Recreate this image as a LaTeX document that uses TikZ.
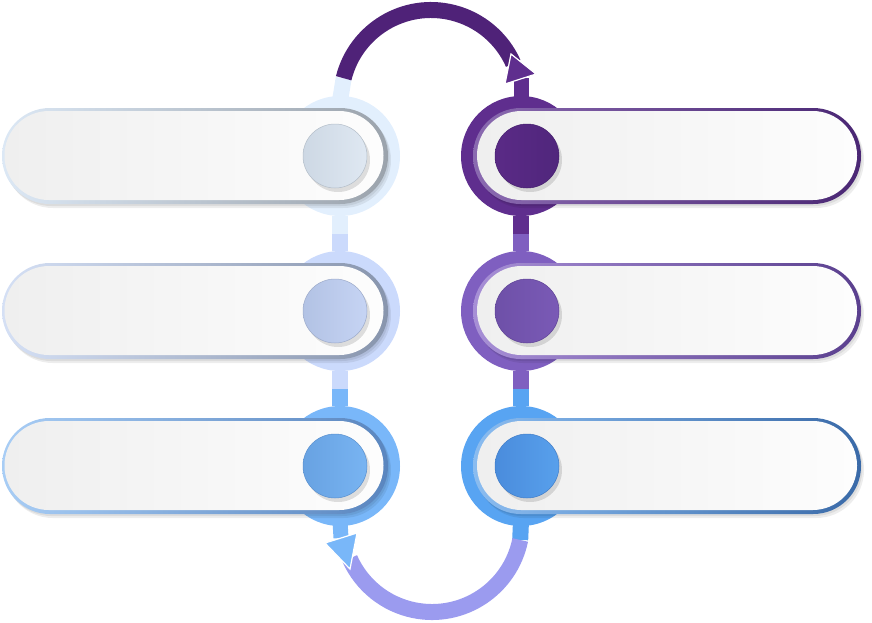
\documentclass[tikz,border=0pt]{standalone}
\usetikzlibrary{calc}
\definecolor{lrA}{HTML}{E2EFFD}
\definecolor{lrB}{HTML}{CBDAFC}
\definecolor{lrC}{HTML}{79B7F9}
\definecolor{rrA}{HTML}{5F2E8E}
\definecolor{rrB}{HTML}{7F5FC0}
\definecolor{rrC}{HTML}{58A4F2}
\definecolor{arcTop}{HTML}{4F2278}
\definecolor{arcBot}{HTML}{9B9BEF}
\definecolor{pillA}{HTML}{EFEFEF}
\definecolor{pillB}{HTML}{FDFDFD}
\tikzset{
  ring/.style={circle, inner sep=0pt, minimum size=120pt, fill=#1},
  button/.style={circle, inner sep=0pt, minimum size=64pt},
  bshadow/.style={circle, inner sep=0pt, minimum size=64pt, fill=black, opacity=0.12},
  pillout/.style={rectangle, inner sep=0pt, minimum height=96pt, rounded corners=47.9pt},
  pillin/.style={rectangle, inner sep=0pt, minimum height=89pt, rounded corners=44.4pt, left color=pillA, right color=pillB},
  pshadow/.style={rectangle, inner sep=0pt, minimum height=96pt, rounded corners=47.9pt, fill=black, opacity=0.07},
  stemline/.style={line width=16pt},
  arrowtip/.style={draw=white, line width=1.2pt, line join=miter},
}
\begin{document}
\begin{tikzpicture}[x=1pt,y=-1pt]
\useasboundingbox (0,0) rectangle (872,622);
\coordinate (TC) at (431,100);
\coordinate (BC) at (432,522);

\coordinate (L1) at (340,156);
\coordinate (L2) at (340,311);
\coordinate (L3) at (340,466);
\coordinate (R1) at (521,156);
\coordinate (R2) at (521,311);
\coordinate (R3) at (521,466);

% ---- top arc
\coordinate (topArcStart) at ($(TC)+(194:90)$);
\draw[stemline, lrA] ($(L1)+(0,-55)$) -- (topArcStart);
\draw[stemline, arcTop] (topArcStart) arc[start angle=194, end angle=336, radius=90];
\coordinate (topTipBase) at (521,78);
\draw[stemline, rrA, line width=15pt] ($(R1)+(0,-55)$) -- (topTipBase);
\draw[arrowtip, fill=rrA] (505,84) -- (511,54) -- (536,74) -- cycle;

% ---- bottom arc
\coordinate (botArcStart) at ($(BC)+(11.5:90)$);
\draw[stemline, rrC] ($(R3)+(0,55)$) -- (botArcStart);
\draw[stemline, arcBot] (botArcStart) arc[start angle=11.5, end angle=156, radius=90];
\coordinate (botTipBase) at (341,538);
\draw[stemline, lrC, line width=15pt] ($(L3)+(0,55)$) -- (botTipBase);
\draw[arrowtip, fill=lrC] (325,543) -- (357,533) -- (350,569) -- cycle;

% ---- rings
\node[ring=lrA] (ringL1) at (L1) {};
\node[ring=lrB] (ringL2) at (L2) {};
\node[ring=lrC] (ringL3) at (L3) {};
\node[ring=rrA] (ringR1) at (R1) {};
\node[ring=rrB] (ringR2) at (R2) {};
\node[ring=rrC] (ringR3) at (R3) {};

% ---- stems between rings
\draw[stemline, lrB] (ringL1.south) -- (ringL2.north);
\draw[stemline, lrA] (ringL1.south) -- ($(ringL1.south)!0.5!(ringL2.north)$);
\draw[stemline, lrC] (ringL2.south) -- (ringL3.north);
\draw[stemline, lrB] (ringL2.south) -- ($(ringL2.south)!0.5!(ringL3.north)$);
\draw[stemline, rrB] (ringR1.south) -- (ringR2.north);
\draw[stemline, rrA] (ringR1.south) -- ($(ringR1.south)!0.5!(ringR2.north)$);
\draw[stemline, rrC] (ringR2.south) -- (ringR3.north);
\draw[stemline, rrB] (ringR2.south) -- ($(ringR2.south)!0.5!(ringR3.north)$);

% ---- left pills
\foreach \n/\y/\ca/\cb in {1/156/DCE8F5/9BA3AC, 2/311/D5E0F5/8895AD, 3/466/A8CDF5/5A86BF}{
  \definecolor{pa}{HTML}{\ca}\definecolor{pb}{HTML}{\cb}
  \node[pshadow, minimum width=386pt] (pLs\n a) at (198,\y+4) {};
  \node[pshadow, minimum width=386pt] (pLs\n b) at (196.5,\y+2) {};
  \node[pillout, minimum width=386pt, left color=pa, right color=pb] (pL\n) at (195,\y) {};
  \node[pillin, minimum width=379pt] (pLi\n) at (194,\y-0.5) {};
}
% ---- right pills
\foreach \n/\y/\ca/\cb in {1/156/8A6AB0/4A2774, 2/311/A78FD6/5A3F8E, 3/466/8ABCF0/3A6AA8}{
  \definecolor{pa}{HTML}{\ca}\definecolor{pb}{HTML}{\cb}
  \node[pshadow, minimum width=388pt] (pRs\n a) at (670,\y+4) {};
  \node[pshadow, minimum width=388pt] (pRs\n b) at (668.5,\y+2) {};
  \node[pillout, minimum width=388pt, left color=pa, right color=pb] (pR\n) at (667,\y) {};
  \node[pillin, minimum width=380pt] (pRi\n) at (667,\y-0.5) {};
}

% ---- buttons
\foreach \n/\x/\y/\ca/\cb/\cd in {
  L1/335/156/CDD8E4/DFE8F2/B4BEC9,
  L2/335/311/B2C2E4/C6D4F4/9DABCA,
  L3/335/466/68A2E2/78B4F2/5A90CE,
  R1/527/156/5A2A86/50267C/46206F,
  R2/527/311/6E50A8/7A5AB6/5F4396,
  R3/527/466/4A8CDC/58A0EC/417DC8}{
  \definecolor{ba}{HTML}{\ca}\definecolor{bb}{HTML}{\cb}\definecolor{bd}{HTML}{\cd}
  \node[bshadow] (bs\n) at (\x+3,\y+4) {};
  \node[button, left color=ba, right color=bb, draw=bd, line width=0.5pt] (b\n) at (\x,\y) {};
}
\end{tikzpicture}
\end{document}
